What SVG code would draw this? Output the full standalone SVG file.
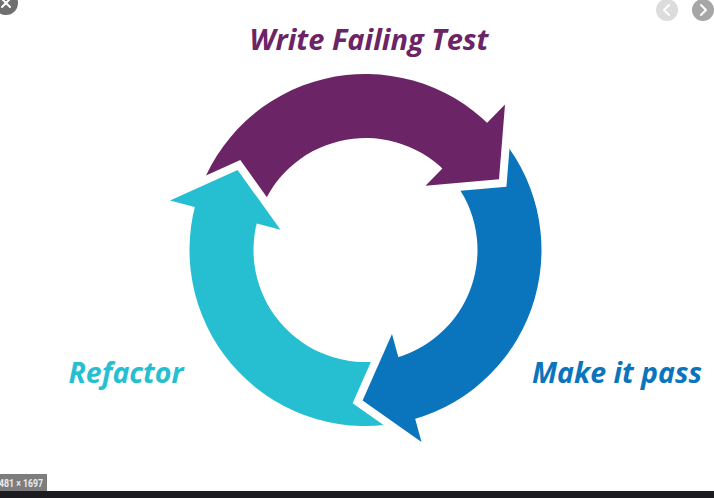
<svg xmlns="http://www.w3.org/2000/svg" width="714" height="498" viewBox="0 0 714 498">
  <style>
    .lbl { font-family: "Open Sans", "Liberation Sans", sans-serif; font-weight: 700; font-style: italic; font-size: 28px; text-anchor: middle; }
    .purple { fill: #6b2466; }
    .blue { fill: #0a75bc; }
    .cyan { fill: #26bfd2; }
    .gap { fill: none; stroke: #ffffff; stroke-width: 16; stroke-linejoin: miter; stroke-linecap: butt; }
    .ui { fill: none; stroke: #ffffff; stroke-width: 2; stroke-linecap: round; stroke-linejoin: round; }
  </style>
  <rect x="0" y="0" width="714" height="498" fill="#ffffff"/>

  <!-- arrow bodies -->
  <g id="bodies">
    <path id="body-write" class="purple" d="M197.93,196.20 A176,176 0 0 1 489.95,125.55 L444.70,170.80 A112,112 0 0 0 258.86,215.76 Z"/>
    <path id="body-pass" class="blue" d="M495.26,131.10 A176,176 0 0 1 413.72,419.27 L396.18,357.71 A112,112 0 0 0 448.08,174.33 Z"/>
    <path id="body-refactor" class="cyan" d="M406.29,421.21 A176,176 0 0 1 195.74,203.56 L257.47,220.45 A112,112 0 0 0 391.46,358.95 Z"/>
  </g>

  <!-- white gaps around arrowheads -->
  <g id="connectors">
    <path class="gap" d="M505,104.5 L499,179.3 L425.5,185.8"/>
    <path class="gap" d="M421.5,442 L362.6,400.5 L392,334"/>
    <path class="gap" d="M170,200.5 L237.6,170 L280.5,229.8"/>
  </g>

  <!-- arrow heads -->
  <g id="node-write">
    <polygon class="purple" points="505,104.5 499,179.3 425.5,185.8"/>
    <text class="lbl purple" x="369" y="49.5" textLength="239" lengthAdjust="spacingAndGlyphs">Write Failing Test</text>
  </g>
  <g id="node-pass">
    <polygon class="blue" points="421.5,442 362.6,400.5 392,334"/>
    <text class="lbl blue" x="617" y="382.5" textLength="170" lengthAdjust="spacingAndGlyphs">Make it pass</text>
  </g>
  <g id="node-refactor">
    <polygon class="cyan" points="170,200.5 237.6,170 280.5,229.8"/>
    <text class="lbl cyan" x="126" y="382.5" textLength="115" lengthAdjust="spacingAndGlyphs">Refactor</text>
  </g>

  <!-- screenshot chrome -->
  <g id="close-btn">
    <circle cx="6" cy="3" r="12" fill="#6f6f6f"/>
    <path class="ui" d="M2,-1 L10,7 M10,-1 L2,7"/>
  </g>
  <g id="prev-btn">
    <circle cx="667" cy="10" r="11" fill="#dcdcdc"/>
    <path class="ui" d="M669,5 L664,10 L669,15"/>
  </g>
  <g id="next-btn">
    <circle cx="703" cy="10" r="11" fill="#a6a6a6"/>
    <path class="ui" d="M701,5 L706,10 L701,15"/>
  </g>
  <g id="size-badge">
    <rect x="0" y="474" width="47" height="17" fill="#7d7d7d"/>
    <text x="-1" y="486.5" font-family="Roboto, 'Liberation Sans', sans-serif" font-size="10.5" font-weight="700" fill="#ececec" textLength="44" lengthAdjust="spacingAndGlyphs">481 × 1697</text>
  </g>
  <rect x="0" y="491" width="714" height="7" fill="#1c1c20"/>
</svg>
